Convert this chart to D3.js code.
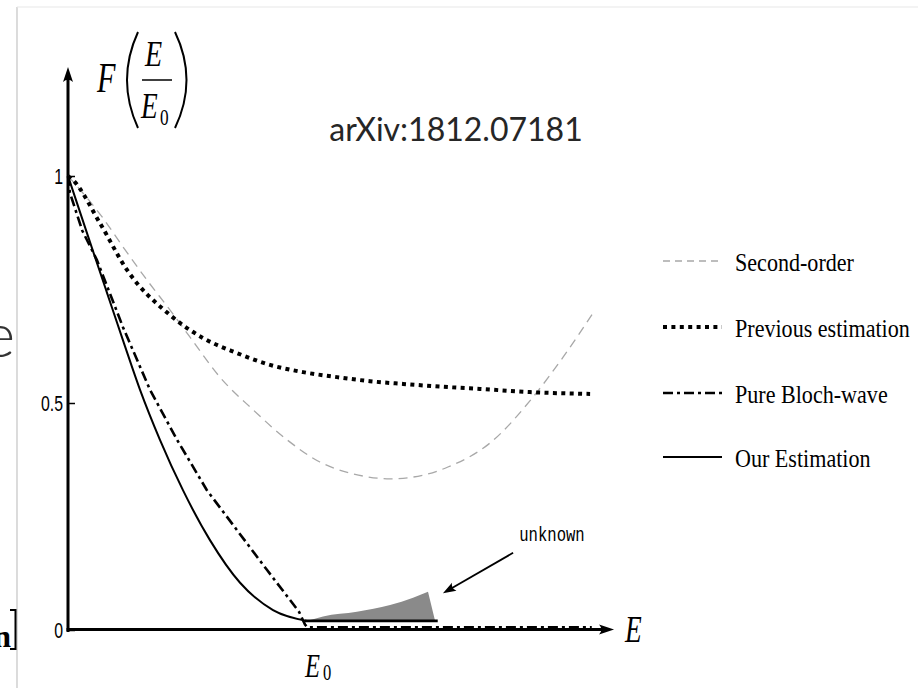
<!DOCTYPE html>
<html>
<head>
<meta charset="utf-8">
<script src="https://cdn.jsdelivr.net/npm/d3@7"></script>
<style>
  body { margin: 0; background: #fff; }
  svg { display: block; }
</style>
</head>
<body>
<div id="chart"></div>
<script>
// values, x in units of E/E0, y = F(E/E0)
const secondOrder = [
  [0, 1], [0.148, 0.907], [0.232, 0.844], [0.333, 0.771], [0.430, 0.705],
  [0.515, 0.645], [0.641, 0.557], [0.781, 0.485], [0.924, 0.419], [1.063, 0.370],
  [1.203, 0.344], [1.359, 0.333], [1.498, 0.341], [1.603, 0.359], [1.781, 0.412],
  [1.962, 0.513], [2.089, 0.601], [2.215, 0.698]
];
const previousEstimation = [
  [0, 1], [0.021, 0.991], [0.135, 0.896], [0.249, 0.793], [0.430, 0.694],
  [0.570, 0.643], [0.713, 0.610], [0.852, 0.584], [0.992, 0.568], [1.135, 0.557],
  [1.274, 0.548], [1.414, 0.542], [1.603, 0.535], [1.738, 0.531], [1.949, 0.524],
  [2.203, 0.520]
];
const pureBloch = [
  [0, 1], [0.008, 0.963], [0.060, 0.880], [0.122, 0.815], [0.232, 0.667],
  [0.346, 0.529], [0.460, 0.419], [0.586, 0.308], [0.713, 0.220], [0.840, 0.132],
  [0.975, 0.040], [1.0, 0.012], [1.01, 0.006], [2.21, 0.006]
];
const ourEstimation = [
  [0, 1], [0.084, 0.868], [0.165, 0.742], [0.236, 0.632], [0.304, 0.529],
  [0.388, 0.419], [0.485, 0.308], [0.599, 0.198], [0.726, 0.104], [0.865, 0.044],
  [1.008, 0.02]
];
const ourFlat = [[1.0, 0.02], [1.56, 0.02]];
const unknownTop = [
  [1.008, 0.02], [1.076, 0.030], [1.219, 0.040], [1.359, 0.055], [1.456, 0.071],
  [1.519, 0.084]
];
const unknownCorner = [1.549, 0.02];
const unknownArrow = [[1.878, 0.170], [1.582, 0.081]];
const unknownLabelPos = [2.042, 0.196];

const yTicks = [0, 0.5, 1];
const yTickLabels = ["0", "0.5", "1"];
const legendLabels = ["Second-order", "Previous estimation", "Pure Bloch-wave", "Our Estimation"];
const titleText = "arXiv:1812.07181";

const width = 923;
const height = 688;

const svg = d3.select("#chart")
  .append("svg")
  .attr("width", width)
  .attr("height", height);

const xScale = d3.scaleLinear().domain([0, 1]).range([68, 305]);
const yScale = d3.scaleLinear().domain([0, 1]).range([630, 176]);

const xAxisEnd = 2.304;
const yAxisEnd = 1.24;

// squeezed text, the source picture is narrowed horizontally
function squish(x, y, str, size, family, sx, style) {
  const t = svg.append("text")
    .attr("transform", `translate(${x},${y}) scale(${sx},1)`)
    .style("font-family", family)
    .style("font-size", size + "px")
    .text(str);
  if (style) t.style("font-style", style);
  return t;
}

function arrowHead(x, y, angle, len, half) {
  svg.append("path")
    .attr("transform", `translate(${x},${y}) rotate(${angle})`)
    .attr("d", `M0,0 L${-len},${-half} Q${-len * 0.7},0 ${-len},${half} Z`)
    .attr("fill", "#000");
}

// slide frame
svg.append("line")
  .attr("x1", 17).attr("x2", 17).attr("y1", 7).attr("y2", height)
  .attr("stroke", "#c4c4c4").attr("stroke-width", 1.2);
svg.append("line")
  .attr("x1", 17).attr("x2", 918).attr("y1", 7).attr("y2", 7)
  .attr("stroke", "#e8e8e8").attr("stroke-width", 1.2);

// cut off slide text on the left
svg.append("text")
  .attr("x", 15).attr("y", 357)
  .attr("text-anchor", "end")
  .style("font-family", "Lato").style("font-weight", 300)
  .style("font-size", "62px").style("fill", "#333")
  .text("e");
svg.append("text")
  .attr("x", 11).attr("y", 647)
  .attr("text-anchor", "end")
  .style("font-family", "Liberation Serif").style("font-weight", "bold")
  .style("font-size", "32px")
  .text("n");
svg.append("path")
  .attr("d", "M10,610 L15.5,610 L15.5,649 L10,649")
  .attr("fill", "none").attr("stroke", "#000").attr("stroke-width", 2);

// title
svg.append("text")
  .attr("x", 456).attr("y", 141)
  .attr("text-anchor", "middle")
  .style("font-family", "Lato")
  .style("font-size", "32px")
  .style("fill", "#262626")
  .text(titleText);

// axes
svg.append("line")
  .attr("x1", xScale(0)).attr("x2", xScale(0))
  .attr("y1", yScale(0) + 2).attr("y2", yScale(yAxisEnd) + 6)
  .attr("stroke", "#000").attr("stroke-width", 3);
arrowHead(xScale(0), yScale(yAxisEnd), -90, 15, 5);

svg.append("line")
  .attr("x1", xScale(0) - 1.5).attr("x2", xScale(xAxisEnd) - 6)
  .attr("y1", yScale(0) - 0.5).attr("y2", yScale(0) - 0.5)
  .attr("stroke", "#000").attr("stroke-width", 3);
arrowHead(xScale(xAxisEnd), yScale(0) - 0.5, 0, 15, 5);

const yAxis = svg.append("g")
  .attr("transform", `translate(${xScale(0)},0)`)
  .call(d3.axisLeft(yScale)
    .tickValues(yTicks)
    .tickFormat((d, i) => yTickLabels[i])
    .tickSizeInner(-7)
    .tickSizeOuter(0)
    .tickPadding(5));
yAxis.select(".domain").remove();
yAxis.selectAll(".tick line").attr("stroke", "#000").attr("stroke-width", 1.5);
yAxis.selectAll(".tick text")
  .attr("x", -5 / 0.72)
  .attr("transform", "scale(0.72,1)")
  .style("font-family", "Liberation Sans")
  .style("font-size", "22px")
  .attr("fill", "#000");

// axis labels
squish(625, 642, "E", 38, "Liberation Serif", 0.72, "italic");
squish(305, 677, "E", 34, "Liberation Serif", 0.72, "italic");
squish(323, 680, "0", 23, "Liberation Serif", 0.72);

squish(97, 92, "F", 42, "Liberation Serif", 0.72, "italic");
svg.append("path")
  .attr("d", "M138,32 Q116,80 138,128")
  .attr("fill", "none").attr("stroke", "#000").attr("stroke-width", 2);
svg.append("path")
  .attr("d", "M175,32 Q198,80 175,128")
  .attr("fill", "none").attr("stroke", "#000").attr("stroke-width", 2);
squish(145, 66, "E", 36, "Liberation Serif", 0.78, "italic");
svg.append("line")
  .attr("x1", 142).attr("x2", 172).attr("y1", 80).attr("y2", 80)
  .attr("stroke", "#000").attr("stroke-width", 1.5);
squish(141, 118, "E", 36, "Liberation Serif", 0.76, "italic");
squish(160, 125, "0", 24, "Liberation Serif", 0.72);

// curves
const smooth = d3.line()
  .x(d => xScale(d[0]))
  .y(d => yScale(d[1]))
  .curve(d3.curveMonotoneX);

const straight = d3.line()
  .x(d => xScale(d[0]))
  .y(d => yScale(d[1]));

svg.append("path")
  .datum(secondOrder)
  .attr("fill", "none")
  .attr("stroke", "#a8a8a8")
  .attr("stroke-width", 1.3)
  .attr("stroke-dasharray", "9,6")
  .attr("d", smooth);

svg.append("path")
  .datum(previousEstimation)
  .attr("fill", "none")
  .attr("stroke", "#000")
  .attr("stroke-width", 4)
  .attr("stroke-dasharray", "4,4.4")
  .attr("d", smooth);

svg.append("path")
  .datum(pureBloch)
  .attr("fill", "none")
  .attr("stroke", "#000")
  .attr("stroke-width", 2.6)
  .attr("stroke-dasharray", "10,4,3,4")
  .attr("d", straight);

svg.append("path")
  .datum(ourEstimation)
  .attr("fill", "none")
  .attr("stroke", "#000")
  .attr("stroke-width", 2)
  .attr("d", smooth);

// unknown region
const topPath = smooth(unknownTop);
svg.append("path")
  .attr("fill", "#8a8a8a")
  .attr("d", topPath + `L${xScale(unknownCorner[0])},${yScale(unknownCorner[1])}Z`);

svg.append("path")
  .datum(ourFlat)
  .attr("fill", "none")
  .attr("stroke", "#000")
  .attr("stroke-width", 2.8)
  .attr("d", straight);

// unknown arrow and label
const ax0 = xScale(unknownArrow[0][0]), ay0 = yScale(unknownArrow[0][1]);
const ax1 = xScale(unknownArrow[1][0]), ay1 = yScale(unknownArrow[1][1]);
const ang = Math.atan2(ay1 - ay0, ax1 - ax0);
svg.append("line")
  .attr("x1", ax0).attr("y1", ay0)
  .attr("x2", ax1 - 8 * Math.cos(ang)).attr("y2", ay1 - 8 * Math.sin(ang))
  .attr("stroke", "#000").attr("stroke-width", 1.8);
arrowHead(ax1, ay1, ang * 180 / Math.PI, 13, 4.5);

squish(xScale(unknownLabelPos[0]), yScale(unknownLabelPos[1]), "unknown", 20, "Liberation Mono", 0.78)
  .attr("text-anchor", "middle");

// legend
const legendY = [261, 327, 393, 457];
const legendStyles = [
  { stroke: "#a8a8a8", width: 1.3, dash: "7,5" },
  { stroke: "#000", width: 4, dash: "4,4.4" },
  { stroke: "#000", width: 2.6, dash: "10,4,3,4" },
  { stroke: "#000", width: 2.2, dash: null }
];

legendLabels.forEach(function(label, i) {
  const s = legendStyles[i];
  const l = svg.append("line")
    .attr("x1", 663).attr("x2", 722)
    .attr("y1", legendY[i]).attr("y2", legendY[i])
    .attr("stroke", s.stroke)
    .attr("stroke-width", s.width);
  if (s.dash) l.attr("stroke-dasharray", s.dash);
  squish(735, legendY[i] + 10, label, 26, "Liberation Serif", 0.85);
});
</script>
</body>
</html>
